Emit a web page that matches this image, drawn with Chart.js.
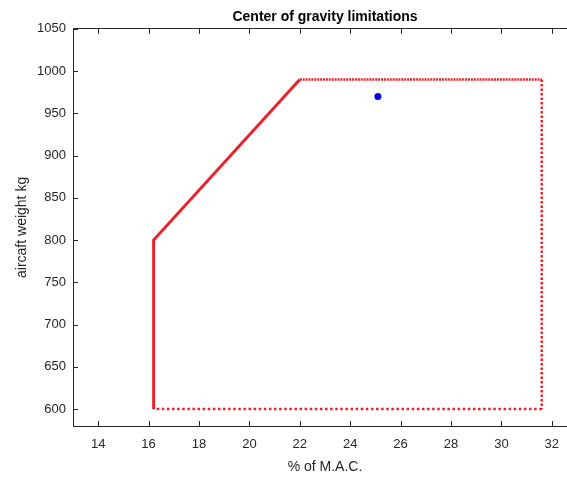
<!DOCTYPE html>
<html>
<head>
<meta charset="utf-8">
<script src="https://cdn.jsdelivr.net/npm/chart.js@4"></script>
<style>
  html, body { margin: 0; padding: 0; background: #fff; overflow: hidden; }
  #wrap { width: 581px; height: 477px; }
</style>
</head>
<body>
<div id="wrap"><canvas id="cgChart" width="581" height="477"></canvas></div>
<script>
// ---------- data ----------
// envelope corners (% MAC, kg)
const envelopeX = [16.2, 16.2, 22, 31.6, 31.6, 16.2];
const envelopeY = [600, 800, 990, 990, 600, 600];
// current loading point
const pointX = [25.1];
const pointY = [970];
// tick labels
const xTicks = [14, 16, 18, 20, 22, 24, 26, 28, 30, 32];
const yTicks = [600, 650, 700, 750, 800, 850, 900, 950, 1000, 1050];

// dot pattern per envelope side ([] = solid)
const sideDash = [[], [], [2, 0.9], [2.5, 2], [2.5, 2.6]];

const red = '#e8232b';
const axisColor = '#262626';
const font = 'Arial, "Liberation Sans", sans-serif';

const envelopeData = envelopeX.map((x, i) => ({ x: x, y: envelopeY[i] }));
const pointData = pointX.map((x, i) => ({ x: x, y: pointY[i] }));

function setTicks(list) {
  return (axis) => {
    axis.ticks = list.map((v) => ({ value: v }));
  };
}

// matlab 스타일 안쪽 눈금
const innerTicks = {
  id: 'innerTicks',
  afterDraw(chart) {
    const { ctx, chartArea, scales } = chart;
    const len = 5;
    ctx.save();
    ctx.setLineDash([]);
    ctx.lineCap = 'butt';
    ctx.strokeStyle = axisColor;
    ctx.lineWidth = 1;
    ctx.beginPath();
    xTicks.forEach((v) => {
      const px = Math.round(scales.x.getPixelForValue(v)) + 0.5;
      ctx.moveTo(px, chartArea.bottom);
      ctx.lineTo(px, chartArea.bottom - len);
      ctx.moveTo(px, chartArea.top);
      ctx.lineTo(px, chartArea.top + len);
    });
    yTicks.forEach((v) => {
      const py = Math.round(scales.y.getPixelForValue(v)) + 0.5;
      ctx.moveTo(chartArea.left, py);
      ctx.lineTo(chartArea.left + len, py);
    });
    ctx.stroke();
    ctx.restore();
  },
};

const config = {
  type: 'line',
  data: {
    datasets: [
      {
        data: envelopeData,
        borderColor: red,
        borderWidth: 3,
        borderCapStyle: 'butt',
        // dash 가 있어야 세로선 fast path 를 안 탄다
        borderDash: [2.5, 2],
        pointRadius: 0,
        tension: 0,
        segment: {
          borderDash: (ctx) => sideDash[ctx.p0DataIndex],
          borderWidth: (ctx) => (sideDash[ctx.p0DataIndex].length ? 2.5 : 3),
        },
      },
      {
        type: 'scatter',
        data: pointData,
        backgroundColor: '#0000e6',
        borderColor: '#0000e6',
        pointRadius: 3.5,
        borderWidth: 0,
      },
    ],
  },
  options: {
    responsive: false,
    animation: false,
    devicePixelRatio: 1,
    layout: { padding: 0 },
    plugins: {
      legend: { display: false },
      tooltip: { enabled: false },
      title: {
        display: true,
        text: 'Center of gravity limitations',
        fullSize: false,
        color: '#000',
        font: { family: font, size: 14, weight: 'bold' },
        padding: { top: 9, bottom: 3 },
      },
    },
    scales: {
      x: {
        type: 'linear',
        position: 'bottom',
        min: 13,
        max: 33,
        afterBuildTicks: setTicks(xTicks),
        afterFit: (s) => { s.height = 51; },
        border: { color: axisColor, width: 1 },
        grid: { display: false, drawTicks: false },
        ticks: {
          color: axisColor,
          padding: 11,
          maxRotation: 0,
          font: { family: font, size: 13 },
          callback: (v) => String(v),
        },
        title: {
          display: true,
          text: '% of M.A.C.',
          color: axisColor,
          font: { family: font, size: 14 },
          padding: { top: 0, bottom: 1 },
        },
      },
      x2: {
        type: 'linear',
        position: 'top',
        min: 13,
        max: 33,
        afterBuildTicks: setTicks(xTicks),
        afterFit: (s) => { s.height = 0; },
        border: { color: axisColor, width: 1 },
        grid: { display: false, drawTicks: false },
        ticks: { display: false },
      },
      y: {
        type: 'linear',
        position: 'left',
        min: 580,
        max: 1050,
        afterBuildTicks: setTicks(yTicks),
        afterFit: (s) => { s.width = 73; },
        border: { color: axisColor, width: 1 },
        grid: { display: false, drawTicks: false },
        ticks: {
          color: axisColor,
          padding: 7,
          font: { family: font, size: 13 },
          callback: (v) => String(v),
        },
        title: {
          display: true,
          text: 'aircaft weight kg',
          color: axisColor,
          font: { family: font, size: 14 },
          padding: { top: 14, bottom: 0 },
        },
      },
    },
  },
  plugins: [innerTicks],
};

new Chart(document.getElementById('cgChart'), config);
</script>
</body>
</html>
